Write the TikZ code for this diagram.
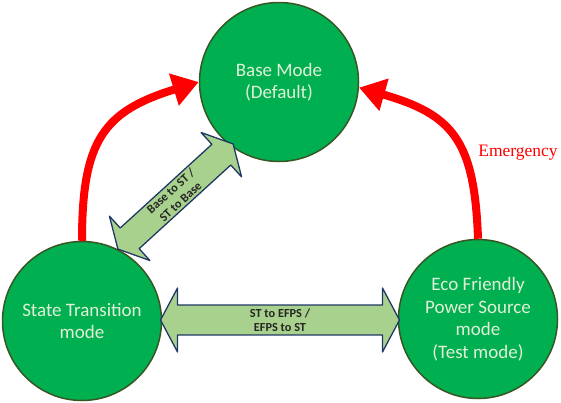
\documentclass[tikz,border=0pt]{standalone}
\usepackage{fontspec}
\setmainfont{Carlito}
\newfontfamily\emergfont{Liberation Serif}
\usetikzlibrary{shapes.arrows,arrows.meta,calc}

\definecolor{modegreen}{HTML}{00B050}
\definecolor{modeedge}{HTML}{375623}
\definecolor{modetext}{HTML}{E2F0D9}
\definecolor{linkfill}{HTML}{A9D18E}
\definecolor{linkedge}{HTML}{203864}
\definecolor{jumpred}{HTML}{FF0000}

\begin{document}
\begin{tikzpicture}[
		x={(1pt,0pt)},
		y={(0pt,-1pt)},
		line join=round,
		mode/.style={circle, draw=modeedge, line width=1.5pt, fill=modegreen,
			minimum size=159pt, inner sep=0pt, align=center, text=modetext,
			font=\fontsize{19}{22.5}\selectfont},
		link/.style={double arrow, draw=linkedge, line width=1.3pt, fill=linkfill,
			inner sep=0pt, align=center, text=black!85,
			font=\bfseries\fontsize{12.3}{14.5}\selectfont,
			double arrow tip angle=124, double arrow head extend=14pt},
		jump/.style={draw=jumpred, line width=8pt, looseness=1.3,
			-{Triangle[length=26pt,width=32pt]}}
	]
	\useasboundingbox (0,0) rectangle (561,402);

	% Modes
	\node[mode] (base) at (279,82) {Base Mode\\(Default)};
	\node[mode] (st) at (82,321) {State Transition\\mode};
	\node[mode] (eco) at (478,319) {Eco Friendly\\Power Source\\mode\\(Test mode)};

	% Two-way links
	\node[link, minimum height=239pt, minimum width=64pt] (sttoeco)
		at ($(st)!0.5!(eco)$) {ST to EFPS /\\EFPS to ST};
	\node[link, minimum height=156pt, minimum width=60pt, rotate=42.4] (basetost)
		at (175.5,196.5) {Base to ST /\\ST to Base};

	% Return to base
	\draw[jump] (st.north) to[out=90, in=197] (base.west);
	\draw[jump] (eco.north) to[out=92, in=-16] (base.-4);
	\node[text=jumpred, font=\emergfont\fontsize{17.5}{20}\selectfont] (emerg)
		at (518,153) {Emergency};

\end{tikzpicture}
\end{document}
